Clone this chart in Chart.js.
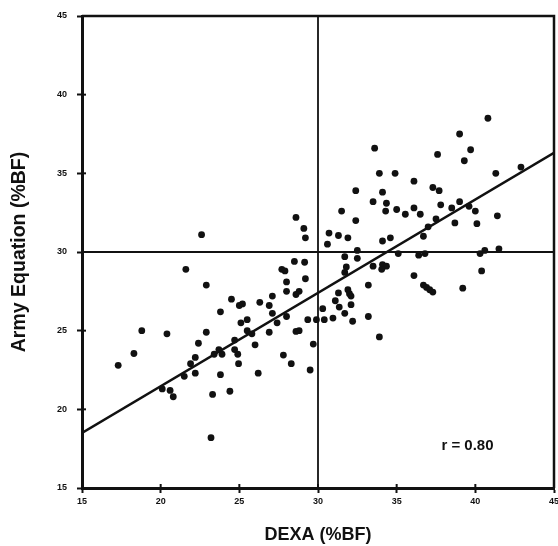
<!DOCTYPE html>
<html>
<head>
<meta charset="utf-8">
<title>DEXA vs Army Equation</title>
<script src="https://cdn.jsdelivr.net/npm/chart.js@4.4.1/dist/chart.umd.min.js"></script>
<style>
  html, body { margin: 0; padding: 0; background: #fff; }
  canvas { display: block; }
</style>
</head>
<body>
<canvas id="my-chart" width="558" height="546"></canvas>
<script>
'use strict';

// >>> Data <<<
// body fat % measured by DEXA (x) and predicted by the Army equation (y)
let dexaBF = [
  40.8, 39.0, 39.7, 39.3, 37.6, 33.6, 33.9, 34.9, 36.1, 41.3,
  42.9, 32.4, 34.1, 37.3, 37.7, 33.5, 34.35, 37.8, 39.0, 38.5,
  39.6, 36.1, 35.0, 34.3, 31.5, 35.55, 36.5, 40.0, 41.4, 32.4,
  37.5, 38.7, 40.1, 37.0, 28.6, 29.1, 29.2, 30.7, 31.3, 31.9,
  30.6, 34.1, 34.6, 36.7, 22.6, 32.5, 32.5, 31.7, 35.1, 36.4,
  36.8, 40.6, 40.3, 41.5, 33.5, 34.1, 34.35, 34.05, 31.8, 31.7,
  28.5, 29.15, 27.7, 27.9, 21.6, 36.1, 40.4, 28.0, 29.2, 33.2,
  36.7, 36.9, 37.1, 37.3, 39.2, 22.9, 28.0, 28.8, 28.6, 27.1,
  31.3, 31.9, 32.0, 32.1, 24.5, 25.0, 25.2, 26.3, 26.9, 31.1,
  31.35, 32.1, 30.3, 23.8, 27.1, 31.7, 28.0, 33.2, 25.5, 25.1,
  27.4, 29.35, 29.9, 30.4, 30.95, 32.2, 25.5, 25.8, 26.9, 28.6,
  28.8, 18.8, 20.4, 22.9, 33.9, 24.7, 22.4, 26.0, 29.7, 23.7,
  24.7, 23.9, 24.9, 18.3, 23.4, 27.8, 22.2, 21.9, 24.95, 28.3,
  17.3, 22.2, 26.2, 29.5, 23.8, 21.5, 20.1, 20.6, 20.8, 24.4,
  23.3, 23.2
];
let armyBF = [
  38.5, 37.5, 36.5, 35.8, 36.2, 36.6, 35.0, 35.0, 34.5, 35.0,
  35.4, 33.9, 33.8, 34.1, 33.9, 33.2, 33.1, 33.0, 33.2, 32.8,
  32.9, 32.8, 32.7, 32.6, 32.6, 32.4, 32.4, 32.6, 32.3, 32.0,
  32.1, 31.85, 31.8, 31.6, 32.2, 31.5, 30.9, 31.2, 31.05, 30.9,
  30.5, 30.7, 30.9, 31.0, 31.1, 30.1, 29.6, 29.7, 29.9, 29.8,
  29.9, 30.1, 29.9, 30.2, 29.1, 29.2, 29.1, 28.9, 29.05, 28.7,
  29.4, 29.35, 28.9, 28.8, 28.9, 28.5, 28.8, 28.1, 28.3, 27.9,
  27.9, 27.75, 27.6, 27.45, 27.7, 27.9, 27.5, 27.5, 27.3, 27.2,
  27.4, 27.6, 27.35, 27.2, 27.0, 26.6, 26.7, 26.8, 26.6, 26.9,
  26.5, 26.65, 26.4, 26.2, 26.1, 26.1, 25.9, 25.9, 25.7, 25.5,
  25.5, 25.7, 25.7, 25.7, 25.8, 25.6, 25.0, 24.8, 24.9, 24.95,
  25.0, 25.0, 24.8, 24.9, 24.6, 24.4, 24.2, 24.1, 24.15, 23.8,
  23.8, 23.5, 23.5, 23.55, 23.5, 23.45, 23.3, 22.9, 22.9, 22.9,
  22.8, 22.3, 22.3, 22.5, 22.2, 22.1, 21.3, 21.2, 20.8, 21.15,
  20.95, 18.2
];

// regression line end points and the 30 %BF cut-offs
let fitX = [15, 45];
let fitY = [18.5, 36.3];
let cutOff = 30;
let axisMin = 15;
let axisMax = 45;
let rLabel = 'r = 0.80';

let fontFamily = '"Liberation Sans", Arial, Helvetica, sans-serif';
let ink = '#111';

// >>> Build datasets <<<
let points = [];
for (let i = 0; i < dexaBF.length; i++) {
  points.push({ x: dexaBF[i], y: armyBF[i] });
}

let fitLine = [];
for (let i = 0; i < fitX.length; i++) {
  fitLine.push({ x: fitX[i], y: fitY[i] });
}

let vLine = [{ x: cutOff, y: axisMin }, { x: cutOff, y: axisMax }];
let hLine = [{ x: axisMin, y: cutOff }, { x: axisMax, y: cutOff }];

// >>> Plugins <<<

// closes the box on top/right, adds inner tick stubs and the r label
let boxPlugin = {
  id: 'boxPlugin',
  afterDraw(chart) {
    let c = chart.ctx;
    let area = chart.chartArea;
    let xs = chart.scales.x;
    let ys = chart.scales.y;

    c.save();
    c.strokeStyle = ink;
    c.lineWidth = 2.5;
    c.beginPath();
    c.moveTo(area.left, area.top);
    c.lineTo(area.right, area.top);
    c.lineTo(area.right, area.bottom);
    c.stroke();

    c.lineWidth = 2;
    xs.ticks.forEach(function (t) {
      let px = xs.getPixelForValue(t.value);
      c.beginPath();
      c.moveTo(px, area.bottom);
      c.lineTo(px, area.bottom - 4);
      c.stroke();
    });
    ys.ticks.forEach(function (t) {
      let py = ys.getPixelForValue(t.value);
      c.beginPath();
      c.moveTo(area.left, py);
      c.lineTo(area.left + 4, py);
      c.stroke();
    });

    c.fillStyle = ink;
    c.font = 'bold 15px ' + fontFamily;
    c.textAlign = 'center';
    c.textBaseline = 'middle';
    c.fillText(rLabel, xs.getPixelForValue(39.5), ys.getPixelForValue(17.7));
    c.restore();
  }
};

// >>> Chart <<<
let canvasElement = document.getElementById('my-chart').getContext('2d');

let tickFont = { family: fontFamily, size: 9, weight: 'bold' };

let myChart = new Chart(canvasElement, {
  type: 'scatter',
  data: {
    datasets: [
      {
        label: 'Subjects',
        data: points,
        pointRadius: 3.4,
        pointBackgroundColor: ink,
        pointBorderWidth: 0
      },
      {
        type: 'line',
        label: 'Fit',
        data: fitLine,
        borderColor: ink,
        borderWidth: 2.5,
        pointRadius: 0,
        fill: false
      },
      {
        type: 'line',
        label: 'DEXA 30',
        data: vLine,
        borderColor: ink,
        borderWidth: 1.8,
        pointRadius: 0,
        fill: false
      },
      {
        type: 'line',
        label: 'Army 30',
        data: hLine,
        borderColor: ink,
        borderWidth: 1.8,
        pointRadius: 0,
        fill: false
      }
    ]
  },
  options: {
    responsive: false,
    animation: false,
    layout: { padding: { top: 16, right: 0, left: 0, bottom: 0 } },
    plugins: {
      legend: { display: false },
      tooltip: { enabled: false }
    },
    scales: {
      x: {
        type: 'linear',
        min: axisMin,
        max: axisMax,
        ticks: { stepSize: 5, font: tickFont, color: ink, padding: 3 },
        grid: { drawOnChartArea: false, tickLength: 5, tickWidth: 2, tickColor: ink },
        border: { width: 3, color: ink },
        title: {
          display: true,
          text: 'DEXA (%BF)',
          color: ink,
          font: { family: fontFamily, size: 18, weight: 'bold' },
          padding: { top: 0, bottom: 0 }
        },
        afterFit(scale) {
          // fixed box, and let the "45" label hang close to the edge
          scale.height = 58;
          scale.paddingRight = 4;
        }
      },
      y: {
        type: 'linear',
        min: axisMin,
        max: axisMax,
        ticks: { stepSize: 5, font: tickFont, color: ink, padding: 10 },
        grid: { drawOnChartArea: false, tickLength: 5, tickWidth: 2, tickColor: ink },
        border: { width: 3, color: ink },
        title: {
          display: true,
          text: 'Army Equation (%BF)',
          color: ink,
          font: { family: fontFamily, size: 19.5, weight: 'bold' },
          padding: { top: 8, bottom: 0 }
        },
        afterFit(scale) {
          scale.width = 82;
        }
      }
    }
  },
  plugins: [boxPlugin]
});
</script>
</body>
</html>
